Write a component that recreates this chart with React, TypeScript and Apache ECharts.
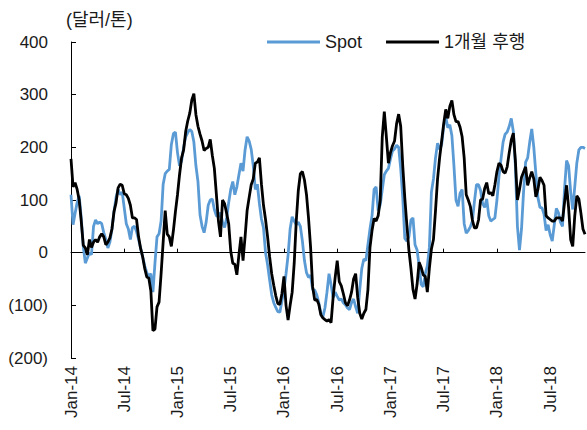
import React, { useEffect, useRef } from "react";
import * as echarts from "echarts";

// Weekly series, Jan-2014 .. Nov-2018 (USD/ton)
const spot: number[] = [
  110, 53, 75, 95, 108, 66, 12, -20, -10, 0,
  -4, 50, 62, 55, 58, 55, 38, 25, 9, 20,
  45, 78, 105, 120, 110, 115, 85, 55, 45, 25,
  48, 50, 40, 25, 8, -8, -25, -38, -45, -40,
  -75, -20, 30, 36, 60, 130, 150, 155, 158, 205,
  226, 229, 190, 165, 174, 200, 220, 228, 234, 230,
  210, 165, 135, 72, 50, 38, 58, 90, 100, 102,
  82, 70, 68, 76, 58, 48, 65, 95, 120, 135,
  110, 125, 148, 170, 155, 195, 220, 212, 196, 165,
  120, 130, 93, 64, 47, 0, -23, -52, -80, -95,
  -104, -112, -113, -92, -70, -40, -5, 45, 68, 60,
  53, 58, 50, 22, -15, -38, -47, -43, -70, -71,
  -80, -95, -115, -122, -105, -75, -40, -61, -85, -75,
  -83, -90, -88, -95, -99, -105, -108, -95, -88, -103,
  -115, -70, -30, -12, -15, 15, 45, 70, 120, 125,
  80, 91, 120, 148, 155, 160, 178, 193, 197, 204,
  200, 160, 105, 27, 22, 30, 62, 66, 15, 5,
  -25, -60, -65, -40, -25, 10, 115, 140, 180, 208,
  196, 205, 240, 258, 237, 243, 222, 165, 100, 88,
  113, 120, 55, 37, 42, 49, 60, 97, 129, 129,
  118, 93, 86, 102, 70, 60, 63, 66, 100, 145,
  178, 210, 225, 229, 240, 255, 230, 165, 50, 5,
  45, 116, 172, 180, 210, 235, 200, 150, 105, 86,
  85, 73, 42, 53, 34, 22, 53, 84, 76, 58,
  50, 120, 175, 165, 115, 82, 125, 170, 195, 200,
  200, 198,
];

const lag1m: number[] = [
  178, 125, 133, 120, 100, 60, 14, 9, -4, 25,
  10, 20, 25, 20, 30, 36, 30, 15, 20, 28,
  45, 78, 95, 123, 130, 128, 112, 110, 103, 90,
  66, 66, 63, 30, 8, -8, -30, -46, -48, -73,
  -148, -145, -103, -94, -40, 20, 80, 35, 30, 12,
  42, 78, 110, 148, 180, 195, 230, 250, 265, 290,
  302, 262, 240, 225, 212, 194, 198, 200, 215, 185,
  160, 110, 60, 30, 100, 93, 75, 55, 3, -20,
  -22, -42, -4, 30, -15, 30, 80, 105, 129, 140,
  170, 172, 180, 130, 90, 63, 30, -8, -40, -62,
  -82, -97, -98, -78, -45, -100, -128, -100, -75, -20,
  60, 118, 150, 154, 138, 110, 65, 10, -65, -90,
  -89, -98, -118, -124, -127, -130, -127, -133, -85, -47,
  -15, -55, -63, -78, -95, -101, -90, -75, -50, -40,
  -85, -115, -126, -115, -108, -70, 10, 42, 65, 60,
  70, 100, 220, 268, 220, 170, 190, 203, 212, 245,
  263, 240, 165, 104, 53, 5, -30, -70, -88, -60,
  -18, -28, -42, -45, -75, -30, 7, 25, 80, 140,
  180, 212, 245, 272, 255, 278, 289, 262, 249, 249,
  238, 220, 180, 110, 100, 88, 62, 47, 47, 62,
  100, 102, 122, 133, 112, 114, 108, 129, 154, 170,
  166, 154, 151, 163, 190, 214, 227, 175, 100, 120,
  143, 153, 163, 128, 142, 154, 140, 106, 120, 143,
  137, 128, 70, 66, 63, 60, 60, 66, 66, 66,
  60, 95, 128, 85, 25, 12, 70, 108, 102, 75,
  45, 35,
];

const seriesNames = ["Spot", "1개월 후행"];
const xTickLabels = [
  "Jan-14", "Jul-14", "Jan-15", "Jul-15", "Jan-16",
  "Jul-16", "Jan-17", "Jul-17", "Jan-18", "Jul-18",
];
const yTickLabels = ["(200)", "(100)", "0", "100", "200", "300", "400"];
const unitLabel = "(달러/톤)";

const WEEKS_PER_TICK = 26;
const Y_MIN = -200;
const Y_MAX = 400;
const Y_STEP = 100;

function buildWeeks(n: number): string[] {
  const out: string[] = [];
  const start = Date.UTC(2014, 0, 3);
  for (let i = 0; i < n; i++) {
    const d = new Date(start + i * 7 * 86400000);
    out.push(d.toISOString().slice(0, 10));
  }
  return out;
}

const FONT = "'Liberation Sans', Arial, 'Noto Sans CJK KR', sans-serif";
const KFONT = "'Liberation Sans', 'Noto Sans CJK KR', sans-serif";

export default function App() {
  const ref = useRef<HTMLDivElement>(null);

  useEffect(() => {
    if (!ref.current) return;
    const chart = echarts.init(ref.current, undefined, { renderer: "svg" });
    const weeks = buildWeeks(spot.length);
    const tickInterval = (i: number) => i % WEEKS_PER_TICK === 0;

    chart.setOption({
      animation: false,
      backgroundColor: "#fff",
      graphic: [
        {
          type: "text",
          left: 66,
          top: 11,
          style: {
            text: unitLabel,
            fontSize: 18,
            fill: "#1a1a1a",
            fontFamily: KFONT,
          },
        },
      ],
      legend: {
        data: seriesNames,
        left: 262,
        top: 28,
        icon: "rect",
        itemWidth: 53,
        itemHeight: 3,
        itemGap: 24,
        textStyle: { fontSize: 18, color: "#1a1a1a", fontFamily: KFONT },
      },
      grid: { left: 71, top: 42, width: 514, height: 316, containLabel: false },
      xAxis: [
        {
          type: "category",
          data: weeks,
          boundaryGap: false,
          axisLine: { show: true, onZero: true, lineStyle: { color: "#000", width: 1 } },
          axisTick: {
            show: true,
            inside: true,
            length: 4,
            interval: tickInterval,
            lineStyle: { color: "#000" },
          },
          axisLabel: { show: false },
          splitLine: { show: false },
        },
        {
          type: "category",
          data: weeks,
          boundaryGap: false,
          position: "bottom",
          axisLine: { show: false, onZero: false },
          axisTick: { show: false },
          axisLabel: {
            show: true,
            interval: tickInterval,
            rotate: 90,
            margin: 8,
            fontSize: 17,
            color: "#1a1a1a",
            fontFamily: FONT,
            formatter: (_v: string, i: number) => xTickLabels[Math.round(i / WEEKS_PER_TICK)] ?? "",
          },
          splitLine: { show: false },
        },
      ],
      yAxis: {
        type: "value",
        min: Y_MIN,
        max: Y_MAX,
        interval: Y_STEP,
        axisLine: { show: true, lineStyle: { color: "#000", width: 1 } },
        axisTick: { show: true, inside: true, length: 5, lineStyle: { color: "#000" } },
        splitLine: { show: false },
        axisLabel: {
          margin: 23,
          fontSize: 17,
          color: "#1a1a1a",
          fontFamily: FONT,
          formatter: (v: number) => yTickLabels[Math.round((v - Y_MIN) / Y_STEP)] ?? String(v),
        },
      },
      series: [
        {
          name: seriesNames[0],
          type: "line",
          data: spot,
          xAxisIndex: 0,
          symbol: "none",
          lineStyle: { color: "#5B9BD5", width: 2.8 },
          itemStyle: { color: "#5B9BD5" },
        },
        {
          name: seriesNames[1],
          type: "line",
          data: lag1m,
          xAxisIndex: 0,
          symbol: "none",
          lineStyle: { color: "#000", width: 2.8 },
          itemStyle: { color: "#000" },
        },
      ],
    });

    return () => chart.dispose();
  }, []);

  return (
    <div
      ref={ref}
      style={{ position: "absolute", left: 0, top: 0, width: 587, height: 430 }}
    />
  );
}
